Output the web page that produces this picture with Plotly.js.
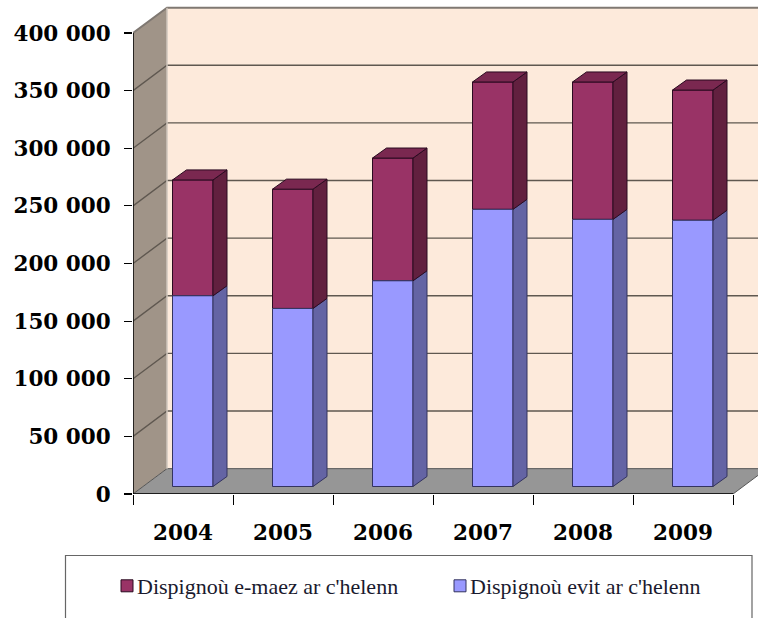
<!DOCTYPE html>
<html><head><meta charset="utf-8">
<script src="https://cdn.plot.ly/plotly-3.0.1.min.js"></script>
<style>html,body{margin:0;padding:0;background:#fff}#c{width:758px;height:618px}</style></head>
<body><div id="c"></div>
<script>
var years = ['2004','2005','2006','2007','2008','2009'];
var inside = [165500,154500,178500,240500,231800,231000];
var outside = [100500,103500,106500,110500,119200,113000];
var nameInside = "Dispignoù evit ar c'helenn";
var nameOutside = "Dispignoù e-maez ar c'helenn";
var yTicks = [0,50000,100000,150000,200000,250000,300000,350000,400000];

var wallDx = 0.34, wallDy = 22000;      // depth of the 3D box (axis units)
var barDx = 0.14, barDy = 8700;         // depth of a bar
var barLeft = 0.395, barW = 0.405, barBase = 6500;
var xMax = 6.25, yMax = 424300;

var pos = years.map(function(_, i){ return i + barLeft + barW/2; });
var baseIn = years.map(function(){ return barBase; });
var baseOut = inside.map(function(v){ return v + barBase; });
var tops = inside.map(function(v,i){ return v + outside[i] + barBase; });

function path(pts, close){
  return pts.map(function(p,i){ return (i?'L':'M')+p[0]+' '+p[1]; }).join(' ')+(close?' Z':'');
}
var shapes = [
  {type:'path', xref:'x', yref:'y', layer:'below', line:{width:0}, fillcolor:'#fdeadb',
   path:path([[wallDx,wallDy],[wallDx,yTicks[8]+wallDy],[xMax+1,yTicks[8]+wallDy],[xMax+1,wallDy]],true)},
  {type:'path', xref:'x', yref:'y', layer:'below', line:{width:0}, fillcolor:'#a09488',
   path:path([[0,0],[0,yTicks[8]],[wallDx,yTicks[8]+wallDy],[wallDx,wallDy]],true)},
  {type:'path', xref:'x', yref:'y', layer:'below', line:{color:'#555',width:1}, fillcolor:'#969696',
   path:path([[0,0],[wallDx,wallDy],[6+wallDx,wallDy],[6,0]],true)}
];
yTicks.slice(1).forEach(function(v){
  var top = v === yTicks[8];
  shapes.push({type:'path', xref:'x', yref:'y', layer:'below',
    line:{color: top ? '#7f7872' : '#5f5850', width: top ? 2 : 1.4},
    path:path([[0,v],[wallDx,v+wallDy],[xMax+1,v+wallDy]],false)});
});
shapes.push({type:'line', xref:'x', yref:'y', layer:'below', line:{color:'#cfc6bc',width:1.5},
  x0:wallDx,x1:wallDx,y0:wallDy,y1:yTicks[8]+wallDy});
// legend frame, runs off the bottom of the picture
shapes.push({type:'rect', xref:'paper', yref:'paper', layer:'below', line:{color:'#666',width:1.2}, fillcolor:'#fff',
  x0:(65.5-133)/625, x1:(752-133)/625, y0:(494-625)/489, y1:(494-555.5)/489});

function faces(bottoms, topsArr){
  var sx=[],sy=[],tx=[],ty=[];
  pos.forEach(function(c,i){
    var r=c+barW/2, l=c-barW/2, b=bottoms[i], t=topsArr[i];
    sx.push(r,r+barDx,r+barDx,r,r,null);
    sy.push(b,b+barDy,t+barDy,t,b,null);
    tx.push(l,l+barDx,r+barDx,r,l,null);
    ty.push(t,t+barDy,t+barDy,t,t,null);
  });
  return {sx:sx,sy:sy,tx:tx,ty:ty};
}
function poly(x,y,fill,line){
  return {type:'scatter',mode:'lines',x:x,y:y,fill:'toself',fillcolor:fill,
    line:{color:line,width:1},hoverinfo:'skip',showlegend:false};
}
var fi = faces(baseIn, baseOut), fo = faces(baseOut, tops);

var data = [
  {type:'bar',name:nameOutside,legend:'legend',x:pos,y:outside,base:baseOut,width:barW,
   marker:{color:'#993366',line:{color:'#2a0a20',width:1}}},
  {type:'bar',name:nameInside,legend:'legend2',x:pos,y:inside,base:baseIn,width:barW,
   marker:{color:'#9999ff',line:{color:'#33335f',width:1}}},
  poly(fi.sx,fi.sy,'#6464a4','#33335f'),
  poly(fo.sx,fo.sy,'#62203f','#2a0a20'),
  poly(fo.tx,fo.ty,'#7a2850','#2a0a20'),
  {type:'scatter',mode:'lines',x:[0,0],y:[yTicks[0],yTicks[8]],cliponaxis:false,
   line:{color:'#000',width:1.5},hoverinfo:'skip',showlegend:false},
  {type:'scatter',mode:'lines',x:[0,6],y:[0,0],cliponaxis:false,
   line:{color:'#000',width:1.5},hoverinfo:'skip',showlegend:false}
];
var tickFont = {family:'"DejaVu Serif",serif',size:21.5,color:'#000',weight:700};
var legendFont = {family:'"Liberation Serif",serif',size:22,color:'#1a1a2e'};
function legendAt(px){
  return {orientation:'h',x:(px-133)/625,xanchor:'left',y:(494-565)/489,yanchor:'top',
    bgcolor:'rgba(0,0,0,0)',borderwidth:0,font:legendFont};
}
var layout = {
  width:758,height:618,
  margin:{l:133,r:0,t:5,b:124,pad:0},
  paper_bgcolor:'#fff',plot_bgcolor:'#fff',
  separators:'. ',
  barmode:'overlay',
  bargap:0,
  xaxis:{range:[0,xMax],fixedrange:true,showgrid:false,zeroline:false,showline:false,
    tickmode:'array',tickvals:years.map(function(_,i){return i+0.5;}),ticktext:years,
    ticks:'',tickfont:tickFont,ticklabelstandoff:23,
    minor:{tick0:0,dtick:1,ticks:'outside',ticklen:10,tickcolor:'#000',tickwidth:1,showgrid:false}},
  yaxis:{range:[0,yMax],fixedrange:true,showgrid:false,zeroline:false,showline:false,
    tickmode:'array',tickvals:yTicks,tickformat:',d',
    ticks:'outside',ticklen:8,tickcolor:'#000',tickwidth:1.2,tickfont:tickFont,ticklabelstandoff:9},
  showlegend:true,
  legend:legendAt(97),
  legend2:legendAt(430),
  shapes:shapes
};
Plotly.newPlot('c',data,layout,{displayModeBar:false,staticPlot:true}).then(function(){
  // the swatches sit right against the legend text in the reference
  document.querySelectorAll('.legendsymbols').forEach(function(s){
    s.setAttribute('transform','translate(10,0)');
  });
});
</script></body></html>
